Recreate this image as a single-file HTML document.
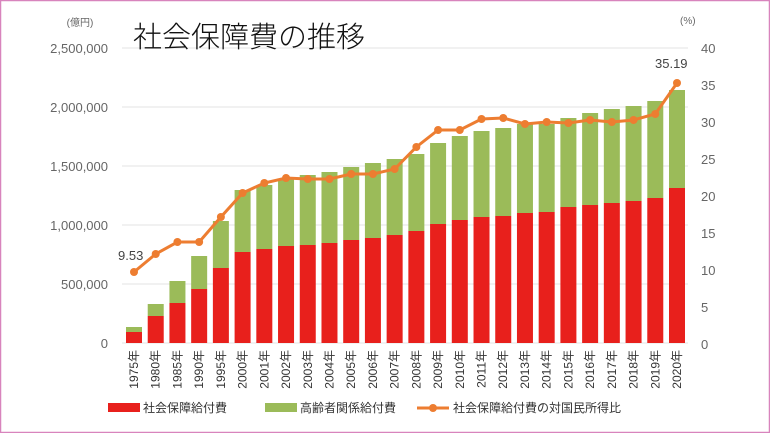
<!DOCTYPE html>
<html><head><meta charset="utf-8"><style>
body{margin:0;background:#fff}
svg{display:block}
text{font-family:"Liberation Sans","Noto Sans CJK JP",sans-serif}
</style></head><body>
<svg width="770" height="433" viewBox="0 0 770 433">
<rect x="0.5" y="0.5" width="769" height="432" fill="#fff" stroke="#d884bd" stroke-width="1.5"/>
<g stroke="#e3e3e3" stroke-width="1">
<line x1="122" x2="688" y1="48" y2="48"/><line x1="122" x2="688" y1="107" y2="107"/>
<line x1="122" x2="688" y1="166" y2="166"/><line x1="122" x2="688" y1="225" y2="225"/>
<line x1="122" x2="688" y1="284" y2="284"/><line x1="122" x2="688" y1="343" y2="343"/>
</g>
<g font-size="13" fill="#666" text-anchor="end">
<text x="108" y="53">2,500,000</text><text x="108" y="112">2,000,000</text>
<text x="108" y="171">1,500,000</text><text x="108" y="230">1,000,000</text>
<text x="108" y="289">500,000</text><text x="108" y="348">0</text>
</g>
<text x="80" y="26" font-size="10" fill="#666" text-anchor="middle">(億円)</text>
<g font-size="13" fill="#666">
<text x="701" y="53">40</text><text x="701" y="90">35</text><text x="701" y="127">30</text>
<text x="701" y="164">25</text><text x="701" y="201">20</text><text x="701" y="238">15</text>
<text x="701" y="275">10</text><text x="701" y="312">5</text><text x="701" y="349">0</text>
</g>
<text x="680" y="24" font-size="10" fill="#666">(%)</text>
<text x="133" y="47" font-size="29" font-weight="300" fill="#111" style="font-family:'Noto Sans CJK JP',sans-serif;font-weight:300">社会保障費の推移</text>
<g id="bars"></g>
<polyline id="ln" fill="none" stroke="#ed7d31" stroke-width="3"/>
<g id="pts" fill="#ed7d31"></g>
<g id="xl" font-size="12" fill="#333"></g>
<text x="118" y="260" font-size="13" fill="#444">9.53</text>
<text x="655" y="68" font-size="13" fill="#444">35.19</text>
<rect x="108" y="403" width="32" height="9" fill="#e8201c"/>
<text x="143" y="412" font-size="12" fill="#333">社会保障給付費</text>
<rect x="265" y="403" width="32" height="9" fill="#9bbb59"/>
<text x="300" y="412" font-size="12" fill="#333">高齢者関係給付費</text>
<line x1="417" x2="449" y1="408" y2="408" stroke="#ed7d31" stroke-width="3"/>
<circle cx="433" cy="408" r="4" fill="#ed7d31"/>
<text x="453" y="412" font-size="12" fill="#333">社会保障給付費の対国民所得比</text>
</svg>
<script>
var yrs=["1975","1980","1985","1990","1995"];for(var y=2000;y<=2020;y++)yrs.push(""+y);
var red=[332,316,303,289,268,252,249,246,245,243,240,238,235,231,224,220,217,216,213,212,207,205,203,201,198,188];
var grn=[327,304,281,256,221,190,185,179,175,172,167,163,159,154,143,136,131,128,124,124,118,113,109,106,101,90];
var ln=[272,254,242,242,217,193,183,178,179,179,174,174,169,147,130,130,119,118,124,122,123,120,122,120,114,83];
var ns="http://www.w3.org/2000/svg",b=document.getElementById("bars"),p=document.getElementById("pts"),xl=document.getElementById("xl"),pts=[];
function el(t,a,par){var e=document.createElementNS(ns,t);for(var k in a)e.setAttribute(k,a[k]);par.appendChild(e);return e;}
for(var i=0;i<26;i++){var cx=134+i*21.72;
el("rect",{x:cx-8,y:grn[i],width:16,height:red[i]-grn[i],fill:"#9bbb59"},b);
el("rect",{x:cx-8,y:red[i],width:16,height:343-red[i],fill:"#e8201c"},b);
el("circle",{cx:cx,cy:ln[i],r:4},p);pts.push(cx+","+ln[i]);
var t=el("text",{x:0,y:0,transform:"translate("+(cx+4)+",350) rotate(-90)","text-anchor":"end"},xl);t.textContent=yrs[i]+"年";}
document.getElementById("ln").setAttribute("points",pts.join(" "));
</script>
</body></html>
